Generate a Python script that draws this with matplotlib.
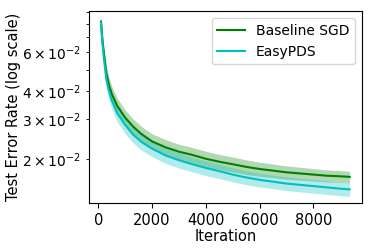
import numpy as np
import matplotlib
matplotlib.use("Agg")
from matplotlib import pyplot as plt

iters = [100, 150, 200, 300, 400, 500, 700, 1000, 1300, 1600, 2000, 2500, 3000,
         3500, 4000, 4500, 5000, 5500, 6000, 6500, 7000, 7500, 8000, 8500, 9000, 9350]

# mean test error, baseline SGD
sgd_mean = [0.082, 0.068, 0.060, 0.048, 0.0425, 0.039, 0.0345, 0.0305, 0.0278, 0.0258,
            0.0239, 0.0225, 0.0215, 0.0208, 0.0200, 0.0194, 0.0189, 0.0184, 0.0180,
            0.0177, 0.0174, 0.0172, 0.0170, 0.0168, 0.0167, 0.0166]
# relative half width of the shaded band
sgd_spread = [0.06, 0.07, 0.075, 0.08, 0.08, 0.08, 0.082, 0.082, 0.082, 0.082, 0.082,
              0.082, 0.08, 0.08, 0.08, 0.078, 0.077, 0.075, 0.072, 0.07, 0.068, 0.066,
              0.064, 0.062, 0.06, 0.06]

# mean test error, EasyPDS
pds_mean = [0.081, 0.066, 0.057, 0.045, 0.040, 0.0365, 0.032, 0.0283, 0.0256, 0.0238,
            0.0222, 0.0207, 0.0197, 0.0189, 0.0182, 0.0176, 0.0170, 0.0165, 0.0161,
            0.0158, 0.0155, 0.0153, 0.0151, 0.0149, 0.0147, 0.0146]
pds_spread = [0.06, 0.08, 0.085, 0.085, 0.085, 0.085, 0.085, 0.085, 0.083, 0.082, 0.08,
              0.078, 0.077, 0.076, 0.075, 0.074, 0.073, 0.072, 0.071, 0.07, 0.07,
              0.07, 0.07, 0.07, 0.07, 0.07]


def band(mean, spread):
    m = np.array(mean)
    s = np.array(spread)
    return m * (1 - s), m * (1 + s)


fig = plt.figure(figsize=(3.74, 2.49), dpi=100)
ax = fig.add_axes([0.237, 0.185, 0.731, 0.769])

lo, hi = band(sgd_mean, sgd_spread)
ax.fill_between(iters, lo, hi, color='green', alpha=0.3, linewidth=0)
ax.plot(iters, sgd_mean, color='green', linewidth=1.5, label='Baseline SGD')

lo, hi = band(pds_mean, pds_spread)
ax.fill_between(iters, lo, hi, color='c', alpha=0.3, linewidth=0)
ax.plot(iters, pds_mean, color='c', linewidth=1.5, label='EasyPDS')

ax.set_yscale('log')
ax.set_ylim(0.0127, 0.0909)
ax.set_xlim(-360, 9810)
ax.set_xticks([0, 2000, 4000, 6000, 8000])
ax.set_xlabel('Iteration', fontsize=10.5, labelpad=1)
ax.set_ylabel('Test Error Rate (log scale)', fontsize=10.5, labelpad=1)
ax.tick_params(labelsize=10.5)
ax.legend(loc='upper right', fontsize=10)

fig.savefig('out.png', dpi=100)
